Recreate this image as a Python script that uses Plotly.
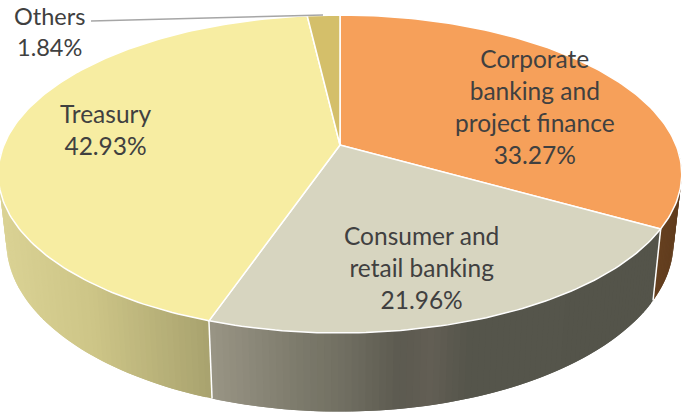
import numpy as np
import plotly.graph_objects as go

# Slice shares in percent, clockwise from twelve o'clock
categories = ["Corporate<br>banking and<br>project finance", "Consumer and<br>retail banking", "Treasury", "Others"]
shares = [33.27, 21.96, 42.93, 1.84]
top_colors = ["#F6A05A", "#D7D5C0", "#F7EDA2", "#D4BF6A"]

# Side-wall shading: (screen x, r, g, b) stops per slice
wall_stops = [
    [(640, 106, 67, 32), (684, 96, 60, 30)],
    [(212, 152, 148, 132), (300, 124, 122, 107), (345, 112, 110, 97), (400, 92, 90, 80),
     (432, 98, 94, 84), (470, 85, 85, 75), (660, 84, 84, 74)],
    [(0, 218, 210, 148), (90, 205, 197, 135), (210, 168, 162, 110)],
    [(300, 170, 150, 90), (340, 170, 150, 90)],
]

# Perspective disc: centre, scale and foreshortening of the top and bottom faces
TOP = dict(cx=340, cy=145, bx=336, ay=153.7, c=0.1824)
BASE = dict(cx=340, cy=211, bx=328, ay=164, c=0.1824)


def project(theta, p):
    u, v = np.sin(theta), np.cos(theta)
    d = 1 + p["c"] * v
    return p["cx"] + p["bx"] * u / d, p["cy"] - p["ay"] * v / d


def arc(a0, a1, n):
    return np.linspace(a0, a1, max(n, 2))


edges = 2 * np.pi * np.cumsum([0] + shares) / sum(shares)
fig = go.Figure()


def poly(x, y, fill, line=None, width=1.0):
    fig.add_trace(go.Scatter(
        x=np.append(x, x[0]), y=np.append(y, y[0]), mode="lines", fill="toself",
        fillcolor=fill, line=dict(color=line or fill, width=width),
        hoverinfo="skip", showlegend=False,
    ))


# Side wall in narrow strips so the shading can run along it; each strip
# overlaps the next one so no hairline shows between them
visible = (np.radians(90), np.radians(270))
for i in range(len(shares)):
    a0, a1 = max(edges[i], visible[0]), min(edges[i + 1], visible[1])
    if a1 <= a0:
        continue
    ts = arc(a0, a1, int((a1 - a0) * 60))
    stops = np.array(wall_stops[i], dtype=float)
    for j in range(len(ts) - 1):
        t0, t1 = ts[j], ts[min(j + 2, len(ts) - 1)]
        sweep = np.linspace(t0, t1, 4)
        xt, yt = project(sweep, TOP)
        xb, yb = project(sweep[::-1], BASE)
        mid = (project(ts[j], TOP)[0] + project(ts[j + 1], TOP)[0]) / 2
        rgb = [int(round(np.interp(mid, stops[:, 0], stops[:, k]))) for k in (1, 2, 3)]
        col = f"rgb({rgb[0]},{rgb[1]},{rgb[2]})"
        poly(np.concatenate([xt, xb]), np.concatenate([yt, yb]), col, width=0)

# White seams where one slice's wall meets the next
for e in edges:
    if visible[0] < e < visible[1]:
        x0, y0 = project(e, TOP)
        x1, y1 = project(e, BASE)
        fig.add_trace(go.Scatter(x=[x0, x1], y=[y0, y1], mode="lines",
                                 line=dict(color="white", width=1.5),
                                 hoverinfo="skip", showlegend=False))

# Top face of each slice
for i in range(len(shares)):
    ts = arc(edges[i], edges[i + 1], int((edges[i + 1] - edges[i]) * 60))
    x, y = project(ts, TOP)
    poly(np.append(x, TOP["cx"]), np.append(y, TOP["cy"]), top_colors[i], line="white", width=1.5)

# Leader line from the small slice to its label
fig.add_trace(go.Scatter(x=[91, 323], y=[21, 15], mode="lines",
                         line=dict(color="#A6A6A6", width=1.5),
                         hoverinfo="skip", showlegend=False))

label_pos = [(535, 106), (421, 267), (105, 129), (49, 31)]
label_sizes = [24.5, 24.5, 24.5, 23.5]
labels = [f"{c}<br>{s:.2f}%" for c, s in zip(categories, shares)]
for text, (lx, ly), size in zip(labels, label_pos, label_sizes):
    fig.add_annotation(x=lx, y=ly, xref="x", yref="y", text=text, showarrow=False,
                       xanchor="center", yanchor="middle", align="center",
                       font=dict(family="Lato", size=size, color="#404040"))

fig.update_layout(
    width=684, height=412, margin=dict(l=0, r=0, t=0, b=0),
    paper_bgcolor="white", plot_bgcolor="white", showlegend=False,
    xaxis=dict(range=[0, 684], visible=False, fixedrange=True),
    yaxis=dict(range=[412, 0], visible=False, fixedrange=True),
)
fig.write_html("out.html", config=dict(displayModeBar=False))
